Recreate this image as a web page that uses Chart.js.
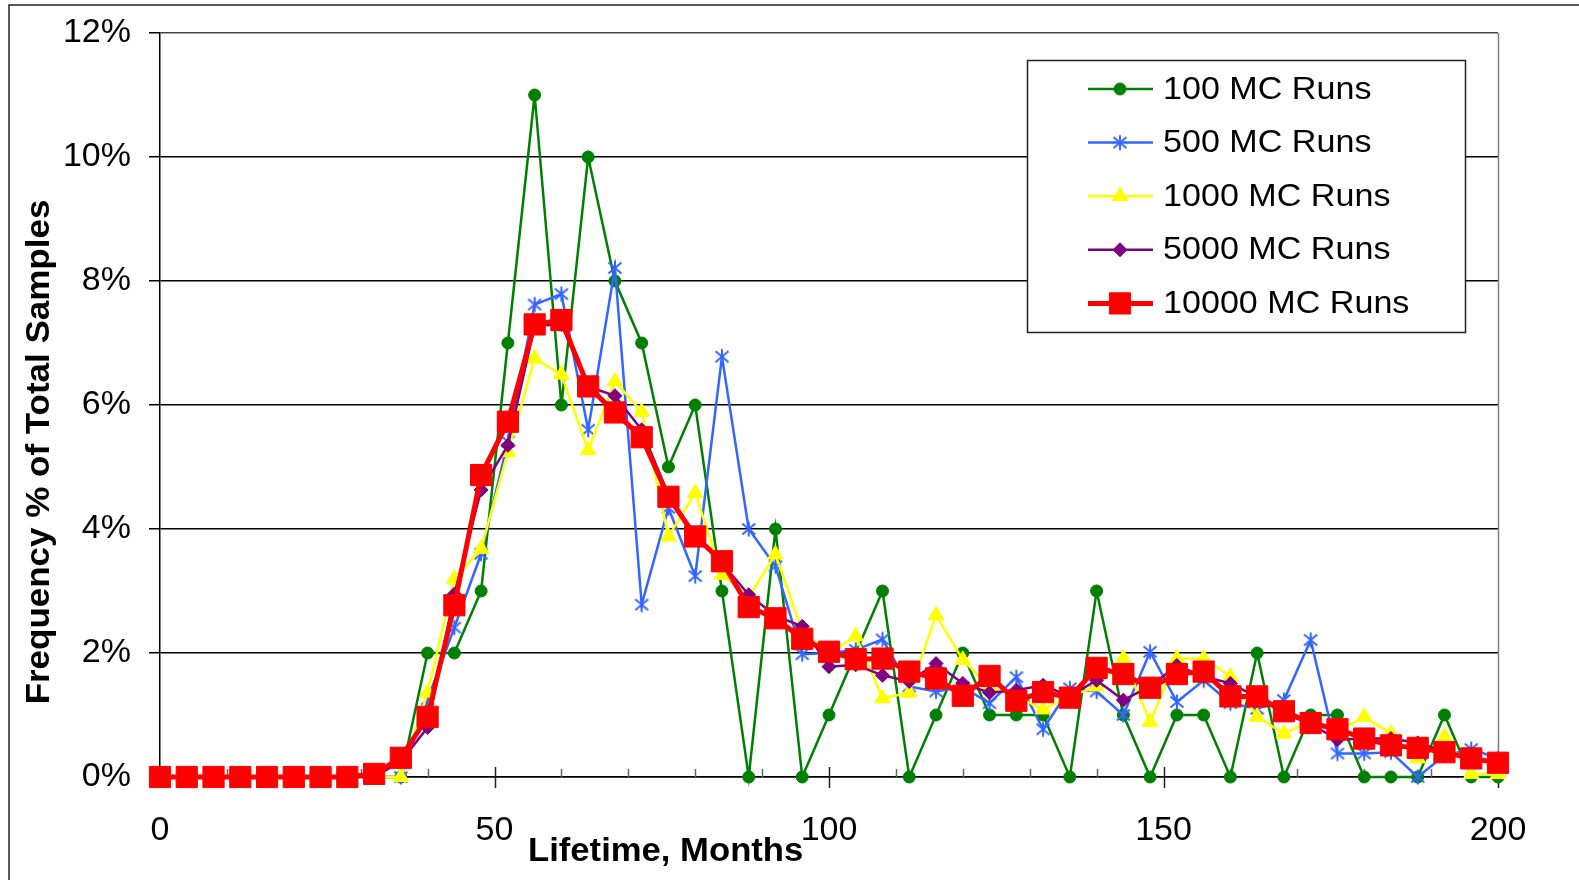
<!DOCTYPE html>
<html>
<head>
<meta charset="utf-8">
<script src="https://cdn.jsdelivr.net/npm/chart.js@4.4.1/dist/chart.umd.min.js"></script>
<style>
  html, body { margin: 0; padding: 0; background: #fff; }
  #wrap { width: 1579px; height: 880px; position: relative; }
</style>
</head>
<body>
<div id="wrap"><canvas id="myChart"></canvas></div>
<script>
'use strict'
// lifetime bins (months)
const months = [0, 4, 8, 12, 16, 20, 24, 28, 32, 36, 40, 44, 48, 52, 56, 60, 64, 68, 72, 76,
    80, 84, 88, 92, 96, 100, 104, 108, 112, 116, 120, 124, 128, 132, 136, 140, 144, 148, 152, 156,
    160, 164, 168, 172, 176, 180, 184, 188, 192, 196, 200];

// frequency, % of total samples
const runs100 = [0, 0, 0, 0, 0, 0, 0, 0, 0, 0, 2, 2, 3, 7, 11, 6, 10, 8, 7, 5,
    6, 3, 0, 4, 0, 1, 2, 3, 0, 1, 2, 1, 1, 1, 0, 3, 1, 0, 1, 1,
    0, 2, 0, 1, 1, 0, 0, 0, 1, 0, 0];
const runs500 = [0, 0, 0, 0, 0, 0, 0, 0, 0, 0, 1.25, 2.41, 3.6, 5.41, 7.62, 7.79, 5.6, 8.21, 2.78, 4.34,
    3.24, 6.78, 4.0, 3.4, 1.98, 2.0, 2.05, 2.22, 1.46, 1.38, 1.45, 1.19, 1.61, 0.77, 1.43, 1.38, 1.0, 2.02, 1.21, 1.56,
    1.19, 1.1, 1.24, 2.21, 0.38, 0.38, 0.4, 0, 0.35, 0.45, 0.3];
const runs1000 = [0, 0, 0, 0, 0, 0, 0, 0, 0, 0, 1.36, 3.2, 3.68, 5.24, 6.75, 6.49, 5.27, 6.38, 5.89, 3.88,
    4.58, 3.26, 2.9, 3.59, 2.35, 2.0, 2.27, 1.27, 1.36, 2.61, 1.89, 1.45, 1.3, 1.09, 1.3, 1.46, 1.91, 0.89, 1.91, 1.91,
    1.62, 0.97, 0.7, 0.9, 0.75, 0.97, 0.7, 0.3, 0.65, 0.05, 0.05];
const runs5000 = [0, 0, 0, 0, 0, 0, 0, 0, 0, 0.25, 0.8, 2.95, 4.63, 5.35, 7.28, 7.3, 6.3, 6.15, 5.6, 4.55,
    3.9, 3.45, 2.94, 2.6, 2.43, 1.78, 1.81, 1.64, 1.54, 1.83, 1.51, 1.36, 1.4, 1.48, 1.3, 1.56, 1.24, 1.46, 1.8, 1.62,
    1.51, 1.29, 1.02, 0.86, 0.6, 0.62, 0.62, 0.55, 0.42, 0.3, 0.22];
const runs10000 = [0, 0, 0, 0, 0, 0, 0, 0, 0.05, 0.31, 0.97, 2.77, 4.87, 5.73, 7.3, 7.37, 6.3, 5.88, 5.48, 4.52,
    3.88, 3.48, 2.74, 2.56, 2.23, 2.02, 1.9, 1.91, 1.7, 1.59, 1.31, 1.63, 1.23, 1.37, 1.28, 1.76, 1.66, 1.44, 1.66, 1.7,
    1.3, 1.3, 1.06, 0.87, 0.77, 0.62, 0.51, 0.47, 0.4, 0.3, 0.23];

const seriesNames = ['100 MC Runs', '500 MC Runs', '1000 MC Runs', '5000 MC Runs', '10000 MC Runs'];
const xLabels = [0, 50, 100, 150, 200];
const yTitle = 'Frequency % of Total Samples';
const xTitle = 'Lifetime, Months';

const FONT = "'Liberation Sans', Arial, sans-serif";

// excel style asterisk marker
function asterisk(color) {
    const c = document.createElement('canvas');
    c.width = 18; c.height = 18;
    const g = c.getContext('2d');
    g.strokeStyle = color;
    g.lineWidth = 2;
    g.beginPath();
    g.moveTo(9, 1.5); g.lineTo(9, 16.5);
    g.moveTo(2.5, 3.5); g.lineTo(15.5, 14.5);
    g.moveTo(15.5, 3.5); g.lineTo(2.5, 14.5);
    g.stroke();
    return c;
}

function toPoints(values) {
    return months.map((m, i) => ({x: m, y: values[i]}));
}

function makeSet(i, values, color, style, radius, width, order) {
    return {
        label: seriesNames[i],
        data: toPoints(values),
        borderColor: color,
        backgroundColor: color,
        borderWidth: width,
        pointStyle: style,
        pointRadius: radius,
        pointBackgroundColor: color,
        pointBorderColor: color,
        pointBorderWidth: 1,
        tension: 0,
        clip: false,
        order: order
    };
}

function drawText(ctx, text, x, y, size, bold, sx, rot) {
    ctx.save();
    ctx.font = (bold ? 'bold ' : '') + size + 'px ' + FONT;
    ctx.translate(x, y);
    if (rot) ctx.rotate(rot);
    ctx.scale(sx, 1);
    ctx.textAlign = rot ? 'center' : 'left';
    ctx.textBaseline = 'middle';
    ctx.fillStyle = '#000';
    ctx.fillText(text, 0, 0);
    ctx.restore();
}

const framePlugin = {
    id: 'frame',
    beforeDraw(chart) {
        const ctx = chart.ctx;
        ctx.save();
        ctx.fillStyle = '#fff';
        ctx.fillRect(0, 0, chart.width, chart.height);
        ctx.strokeStyle = '#222';
        ctx.lineWidth = 1.5;
        ctx.beginPath();
        ctx.moveTo(9, chart.height);
        ctx.lineTo(9, 5);
        ctx.lineTo(chart.width, 5);
        ctx.stroke();
        ctx.restore();
    },
    beforeDatasetsDraw(chart) {
        const ctx = chart.ctx, xs = chart.scales.x, a = chart.chartArea;
        ctx.save();
        ctx.lineWidth = 1.5;
        ctx.strokeStyle = '#808080';
        ctx.beginPath();
        ctx.moveTo(a.right + 0.5, a.top);
        ctx.lineTo(a.right + 0.5, a.bottom);
        ctx.stroke();
        xs.ticks.forEach(t => {
            const px = Math.round(xs.getPixelForValue(t.value)) + 0.5;
            const major = xLabels.includes(t.value);
            ctx.strokeStyle = major ? '#222' : '#666';
            ctx.beginPath();
            ctx.moveTo(px, a.bottom - (major ? 10 : 8));
            ctx.lineTo(px, a.bottom + (major ? 11 : 0));
            ctx.stroke();
        });
        ctx.restore();
    },
    afterDraw(chart) {
        const ctx = chart.ctx;
        // legend box
        ctx.save();
        ctx.fillStyle = '#fff';
        ctx.strokeStyle = '#222';
        ctx.lineWidth = 1.5;
        ctx.fillRect(1027, 60, 438, 272);
        ctx.strokeRect(1027.5, 60.5, 438, 272);
        chart.data.datasets.forEach((ds, i) => {
            const y = 89 + i * 53.6;
            ctx.strokeStyle = ds.borderColor;
            ctx.lineWidth = ds.borderWidth;
            ctx.beginPath();
            ctx.moveTo(1088, y);
            ctx.lineTo(1153, y);
            ctx.stroke();
            ctx.fillStyle = ds.pointBackgroundColor;
            ctx.strokeStyle = ds.pointBorderColor;
            ctx.lineWidth = ds.pointBorderWidth;
            const opts = {pointStyle: ds.pointStyle, radius: ds.pointRadius, rotation: 0, borderWidth: ds.pointBorderWidth};
            if (Chart.helpers && Chart.helpers.drawPoint) {
                Chart.helpers.drawPoint(ctx, opts, 1120, y);
            }
            drawText(ctx, ds.label, 1163, y + 1, 31, false, 1.1, 0);
        });
        ctx.restore();
        // axis titles
        drawText(ctx, yTitle, 40, 452, 33, true, 1.06, -Math.PI / 2);
        drawText(ctx, xTitle, 528, 852, 33, true, 1.05, 0);
    }
};

const ctx = document.getElementById('myChart').getContext('2d');

const myChart = new Chart(ctx, {
    type: 'line',
    data: {
        datasets: [
            makeSet(0, runs100, '#008000', 'circle', 6, 2.5, 4),
            makeSet(1, runs500, '#3366FF', asterisk('#3366FF'), 8, 2.5, 3),
            makeSet(2, runs1000, '#FFFF00', 'triangle', 9, 2.5, 2),
            makeSet(3, runs5000, '#800080', 'rectRot', 7, 2.5, 1),
            makeSet(4, runs10000, '#FF0000', 'rect', 15, 5, 0)
        ]
    },
    options: {
        responsive: true,
        maintainAspectRatio: false,
        animation: false,
        layout: {padding: {left: 0, right: 81, top: 33, bottom: 0}},
        plugins: {
            legend: {display: false},
            tooltip: {enabled: false}
        },
        scales: {
            x: {
                type: 'linear',
                min: 0,
                max: 200,
                afterFit(scale) { scale.height = 103; },
                grid: {display: false, tickLength: 11},
                border: {display: true, color: '#000', width: 1.5},
                ticks: {
                    stepSize: 10,
                    autoSkip: false,
                    maxRotation: 0,
                    padding: 22,
                    color: '#000',
                    font: {family: FONT, size: 34},
                    callback: v => xLabels.includes(v) ? String(v) : ''
                }
            },
            y: {
                min: 0,
                max: 12,
                afterFit(scale) { scale.width = 160; },
                grid: {
                    color: c => c.tick && c.tick.value === 12 ? '#444' : '#000',
                    lineWidth: 1.5,
                    tickLength: 11,
                    tickColor: '#000'
                },
                border: {display: true, color: '#000', width: 1.5},
                ticks: {
                    stepSize: 2,
                    padding: 18,
                    color: '#000',
                    font: {family: FONT, size: 34, lineHeight: 0.8},
                    callback: v => v + '%'
                }
            }
        }
    },
    plugins: [framePlugin]
});
</script>
</body>
</html>
